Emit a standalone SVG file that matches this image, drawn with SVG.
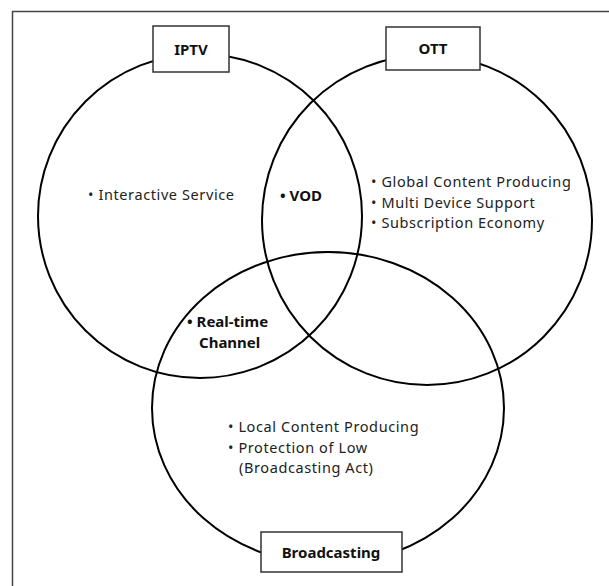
<svg xmlns="http://www.w3.org/2000/svg" width="609" height="586" viewBox="0 0 609 586">
<style>
.circ{fill:none;stroke:#000;stroke-width:2}
.box{fill:#fff;stroke:#333;stroke-width:1.5}
.lbl{font-family:"Noto Sans","Liberation Sans",sans-serif;font-weight:bold;font-size:15px;fill:#111;text-anchor:middle;dominant-baseline:central}
.t{font-family:"Noto Sans","Liberation Sans",sans-serif;font-size:14.5px;letter-spacing:0.6px;fill:#222}
.b{font-family:"Noto Sans","Liberation Sans",sans-serif;font-size:15px;font-weight:bold;fill:#111}
</style>
<rect width="609" height="586" fill="#fff"/>
<path d="M12.5 586 V11.5 H609" fill="none" stroke="#444" stroke-width="1.5"/>
<g id="connectors">
<circle class="circ" cx="200" cy="216" r="162"/>
<circle class="circ" cx="427" cy="220" r="165"/>
<ellipse class="circ" cx="328" cy="408" rx="176" ry="156"/>
</g>
<g id="iptv">
<rect class="box" x="153" y="26" width="76" height="46"/>
<text class="lbl" x="191" y="49">IPTV</text>
</g>
<g id="ott">
<rect class="box" x="386" y="27" width="94" height="43"/>
<text class="lbl" x="433" y="48">OTT</text>
</g>
<g id="broadcasting">
<rect class="box" x="261" y="532" width="141" height="40"/>
<text class="lbl" x="331" y="552">Broadcasting</text>
</g>
<g id="texts">
<text class="t" x="88" y="200">• Interactive Service</text>
<text class="b" x="280" y="201">• VOD</text>
<text class="t" x="371" y="187">• Global Content Producing</text>
<text class="t" x="371" y="208">• Multi Device Support</text>
<text class="t" x="371" y="228">• Subscription Economy</text>
<text class="b" x="187" y="327">• Real-time</text>
<text class="b" x="199" y="348">Channel</text>
<text class="t" x="228" y="432">• Local Content Producing</text>
<text class="t" x="228" y="453">• Protection of Low</text>
<text class="t" x="239" y="473">(Broadcasting Act)</text>
</g>
</svg>
